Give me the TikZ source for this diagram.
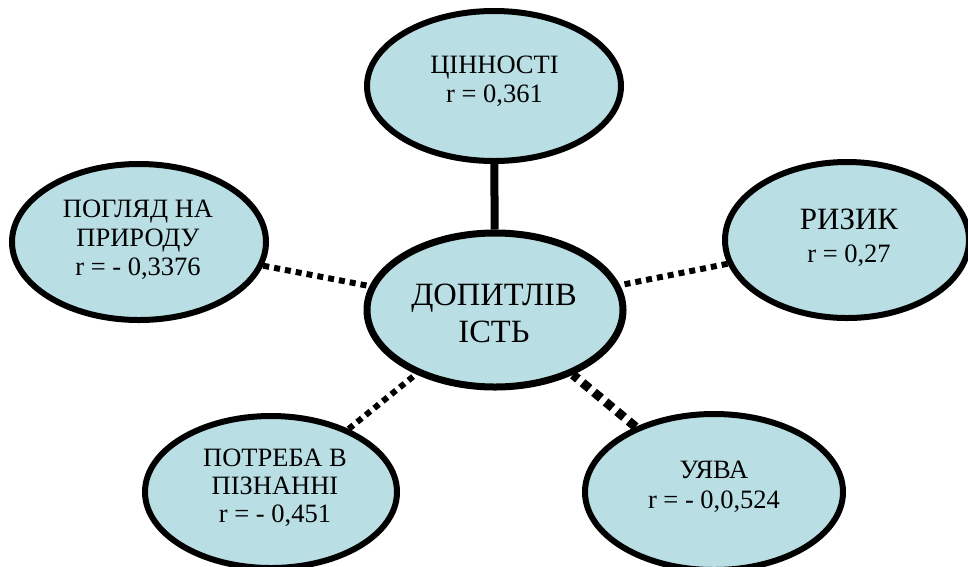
\documentclass[tikz,border=0pt]{standalone}
\usepackage{fontspec}
\setmainfont{Liberation Serif}
\usetikzlibrary{shapes.geometric,backgrounds}
\definecolor{bubblefill}{RGB}{185,223,228}
\tikzset{
  bubble/.style={ellipse, draw=black, line width=6pt, fill=bubblefill, inner sep=0pt},
  lbl/.style={align=center, inner sep=0pt, anchor=base, font=\fontsize{26.5}{29}\selectfont},
  solidlink/.style={line width=8pt},
  dotlink/.style={line width=6pt, dash pattern=on 6pt off 5pt},
  boldlink/.style={line width=9pt, dash pattern=on 9pt off 6pt},
}
\begin{document}
\begin{tikzpicture}[x=1pt,y=-1pt]
\useasboundingbox (0,0) rectangle (968,566);
\node[bubble, minimum width=254pt, minimum height=150pt] (top) at (494,86) {};
\node[bubble, minimum width=256pt, minimum height=154pt, line width=7pt] (mid) at (495,310) {};
\node[bubble, minimum width=254pt, minimum height=156pt] (lft) at (139,242) {};
\node[bubble, minimum width=244pt, minimum height=156pt] (rgt) at (847,240) {};
\node[bubble, minimum width=252pt, minimum height=152pt] (bl) at (271,492) {};
\node[bubble, minimum width=258pt, minimum height=156pt] (br) at (714,492) {};

\node[lbl] (top-t) at (494.5,102) {ЦІННОСТІ\\r = 0,361};
\node[lbl, font=\fontsize{32.5}{37}\selectfont] (mid-t) at (494,342) {ДОПИТЛІВ\\ІСТЬ};
\node[lbl] (lft-t) at (138,275) {ПОГЛЯД НА\\ПРИРОДУ\\r = - 0,3376};
\node[lbl, font=\fontsize{26.5}{33}\selectfont] (rgt-t) at (849,262) {{\fontsize{31}{33}\selectfont РИЗИК}\\r = 0,27};
\node[lbl, font=\fontsize{26.5}{28}\selectfont] (bl-t) at (275,522) {ПОТРЕБА В\\ПІЗНАННІ\\r = - 0,451};
\node[lbl, font=\fontsize{26.5}{30}\selectfont] (br-t) at (714,508) {УЯВА\\r = - 0,0,524};

\begin{scope}[on background layer]
\draw[solidlink] (top) -- (mid);
\draw[dotlink] (lft) -- (mid);
\draw[dotlink] (rgt) -- (mid);
\draw[dotlink] (bl) -- (mid);
\draw[boldlink] (br) -- (mid);
\end{scope}
\end{tikzpicture}
\end{document}
